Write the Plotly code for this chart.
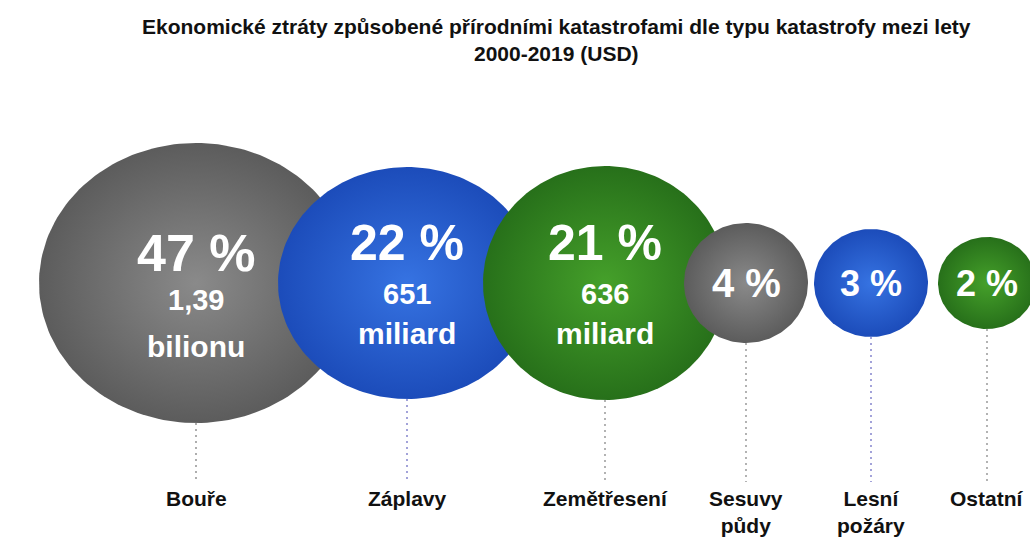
import numpy as np
import plotly.graph_objects as go

# ---- data ----
categories = ["Bouře", "Záplavy", "Zemětřesení", "Sesuvy<br>půdy", "Lesní<br>požáry", "Ostatní"]
shares_pct = [47, 22, 21, 4, 3, 2]
amount_value = ["1,39", "651", "636", "", "", ""]
amount_unit = ["bilionu", "miliard", "miliard", "", "", ""]

title_text = ("Ekonomické ztráty způsobené přírodními katastrofami dle typu katastrofy mezi lety"
              "<br>2000-2019 (USD)")

# ---- layout / style (pixel space) ----
W, H = 1030, 538
center_x = [196, 407, 605, 746, 871, 987]
center_y = 283
radius_x = [157, 129, 122, 62, 57, 49]
radius_y = [140, 116, 117, 60, 54, 46]
fill_scales = {
    "gray": [[0, "#8a8a8a"], [1, "#5c5c5c"]],
    "blue": [[0, "#3673e2"], [1, "#1c4cba"]],
    "green": [[0, "#45a02a"], [1, "#27701a"]],
}
bubble_colors = ["gray", "blue", "green", "gray", "blue", "green"]
line_colors = ["#9a9a9a", "#8c8cd0", "#a0a0a0", "#a0a0a0", "#8c8cd0", "#a0a0a0"]
line_end_y = 482
pct_font = [52, 50, 50, 40, 36, 36]
pct_y = [253, 243, 243, 283, 283, 283]
val_y = [300, 294, 294]
unit_y = [346, 333, 333]
FONT = "Liberation Sans, Arial"

fig = go.Figure()

# dotted guide lines
for i, cat in enumerate(categories):
    fig.add_trace(go.Scatter(
        x=[center_x[i], center_x[i]], y=[center_y + radius_y[i], line_end_y],
        mode="lines", line=dict(color=line_colors[i], width=1.6, dash="2px,4px"),
        hoverinfo="skip", showlegend=False))

# bubbles (ellipses)
t = np.linspace(0, 2 * np.pi, 181)
for i, cat in enumerate(categories):
    fig.add_trace(go.Scatter(
        x=center_x[i] + radius_x[i] * np.cos(t),
        y=center_y + radius_y[i] * np.sin(t),
        mode="lines", fill="toself", line=dict(width=0, color="rgba(0,0,0,0)"),
        fillgradient=dict(type="radial", colorscale=fill_scales[bubble_colors[i]]),
        name=cat.replace("<br>", " "), hoverinfo="name", showlegend=False))

annotations = []
for i, cat in enumerate(categories):
    annotations.append(dict(
        x=center_x[i], y=pct_y[i], text=f"<b>{shares_pct[i]} %</b>", showarrow=False,
        font=dict(family=FONT, size=pct_font[i], color="white"),
        xanchor="center", yanchor="middle"))
    if amount_value[i]:
        annotations.append(dict(
            x=center_x[i], y=val_y[i], text=f"<b>{amount_value[i]}</b>", showarrow=False,
            font=dict(family=FONT, size=29, color="white"),
            xanchor="center", yanchor="middle"))
        annotations.append(dict(
            x=center_x[i], y=unit_y[i], text=f"<b>{amount_unit[i]}</b>", showarrow=False,
            font=dict(family=FONT, size=30, color="white"),
            xanchor="center", yanchor="middle"))
    annotations.append(dict(
        x=center_x[i], y=485, text=f"<b>{cat}</b>", showarrow=False,
        font=dict(family=FONT, size=21, color="#111111"),
        xanchor="center", yanchor="top"))

annotations.append(dict(
    x=556, y=40, text=f"<b>{title_text}</b>", showarrow=False,
    font=dict(family=FONT, size=21, color="#111111"),
    xanchor="center", yanchor="middle", align="center"))

fig.update_layout(
    width=W, height=H, margin=dict(l=0, r=0, t=0, b=0),
    paper_bgcolor="white", plot_bgcolor="white",
    xaxis=dict(range=[0, W], visible=False, fixedrange=True),
    yaxis=dict(range=[H, 0], visible=False, fixedrange=True),
    annotations=annotations, showlegend=False)

fig.write_html("out.html", config={"displayModeBar": False},
               post_script="document.body.style.margin='0';document.body.style.overflow='hidden';")
